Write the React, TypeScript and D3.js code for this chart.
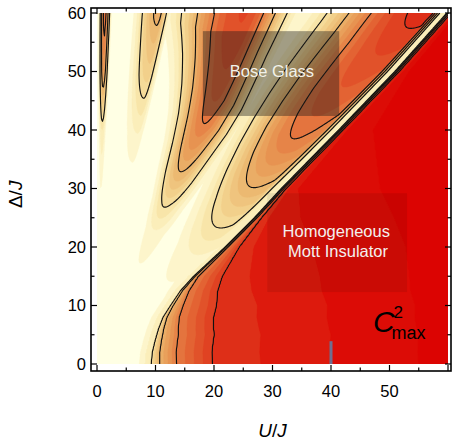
import { useEffect, useRef } from "react";
import * as d3 from "d3";

const WIDTH = 454;
const HEIGHT = 441;

const xTicks = [0, 10, 20, 30, 40, 50];
const yTicks = [0, 10, 20, 30, 40, 50, 60];
const minorTicks = [5, 15, 25, 35, 45, 55];

// edge of the Mott lobe (U/J reached at each Δ/J)
const boundaryDelta = [0, 2, 4, 6, 8, 10, 12.5, 15, 20, 25, 30, 40, 50, 60];
const boundaryU = [9.0, 9.2, 9.7, 10.3, 11.1, 12.4, 14.1, 16.4, 21.8, 26.8, 31.4, 41.2, 50.8, 59.7];

// Mott side: how far right of the edge (in U/J) each level of C² is reached
const mottDelta = [0, 5, 10, 15, 20, 25, 30, 40, 50, 60];
const mottLevels = [0.1, 0.2, 0.4, 0.6, 0.8, 0.85, 0.9, 0.95, 0.97];
const mott010 = [0, 0, 0, 0, 0, 0, 0, 0, 0, 0];
const mott020 = [0.25, 0.2, 0.15, 0.12, 0.1, 0.1, 0.1, 0.1, 0.1, 0.1];
const mott040 = [1.7, 1.2, 0.6, 0.35, 0.3, 0.3, 0.3, 0.3, 0.3, 0.3];
const mott060 = [4.6, 3.9, 2.3, 0.9, 0.6, 0.55, 0.55, 0.55, 0.55, 0.55];
const mott080 = [10.7, 10, 8, 5, 2.5, 1.3, 0.9, 0.85, 0.85, 0.85];
const mott085 = [19, 18, 15, 9.7, 5, 2.6, 1.4, 1.1, 1.1, 1.1];
const mott090 = [31, 30, 27, 21.7, 15, 8, 3, 1.6, 1.5, 1.5];
const mott095 = [46, 45, 42, 37, 31, 24, 17, 6, 2.5, 2];
const mott097 = [70, 70, 68, 65, 60, 55, 50, 35, 15, 6];

// thin pale strip just outside the Mott edge
const dipOffset = [-2.3, -0.9];
const dipWeight = [0, 1];
const dipValue = 0.1;
const baseValue = 0.02;

// Bose-glass fingers: angle from the Δ axis (deg), peak C² and widths vs radius
const profileRadius = [0, 15, 25, 30, 35, 40, 45, 50, 55, 60, 70, 85];
const peakA = [0, 0, 0.02, 0.05, 0.09, 0.15, 0.32, 0.5, 0.59, 0.65, 0.7, 0.72];
const peakB = [0, 0, 0, 0.02, 0.05, 0.1, 0.18, 0.27, 0.34, 0.42, 0.5, 0.55];
const peakC = [0, 0.02, 0.1, 0.22, 0.38, 0.5, 0.6, 0.66, 0.7, 0.74, 0.77, 0.8];
const peakD = [0, 0.02, 0.1, 0.18, 0.28, 0.4, 0.5, 0.59, 0.64, 0.68, 0.74, 0.85];
const angleA = [1.25, 1.25, 1.25, 1.25, 1.25, 1.25, 1.25, 1.25, 1.25, 1.25, 1.25, 1.25];
const angleB = [10, 10, 10, 10, 10, 10, 10, 10, 10, 10, 10, 10];
const angleC = [23, 23, 23, 23, 23.3, 23.6, 24, 24, 23.5, 23, 22.5, 22];
const angleD = [40.5, 40.5, 40.5, 40.5, 40.5, 40.5, 40.5, 40.7, 40.9, 41.2, 42, 43];
const leftA = [0.75, 0.75, 0.75, 0.75, 0.75, 0.75, 0.75, 0.75, 0.75, 0.75, 0.75, 0.75];
const rightA = [0.85, 0.85, 0.85, 0.85, 0.85, 0.85, 0.85, 0.85, 0.85, 0.85, 0.85, 0.85];
const leftB = [3.3, 3.3, 3.3, 3.3, 3.3, 3.3, 3.3, 3.3, 3.3, 3.3, 3.3, 3.3];
const rightB = [1.5, 1.5, 1.5, 1.5, 1.5, 1.5, 1.5, 1.5, 1.5, 1.5, 1.5, 1.5];
const leftC = [4.4, 4.4, 4.4, 4.4, 5, 5.5, 6.4, 7.4, 8.2, 9.2, 9.9, 10.4];
const rightC = [5.8, 5.8, 5.8, 5.8, 5.8, 5.8, 5.8, 5.8, 5.8, 5.8, 5.8, 5.8];
const leftD = [8.8, 8.8, 8.8, 8.8, 8.8, 8.8, 8.8, 8.8, 8.8, 8.8, 8.8, 8.8];
const rightD = [8.8, 8.8, 8.8, 8.8, 8.8, 8.8, 8.8, 8.8, 8.8, 8.8, 8.8, 8.8];

const fillLevels = [0.05, 0.1, 0.15, 0.2, 0.25, 0.3, 0.35, 0.4, 0.45, 0.5, 0.55, 0.6, 0.65, 0.7, 0.75, 0.8, 0.85, 0.9, 0.95];
const lineLevels = [0.2, 0.4, 0.6, 0.8];
const colorStops = [0, 0.1, 0.2, 0.3, 0.4, 0.5, 0.6, 0.7, 0.8, 0.85, 0.9, 1];
const colorHex = ["#ffffe4", "#fcf2c2", "#f6e0a0", "#f0ca84", "#ebb36b", "#e89a56", "#e57d43", "#e25a2e", "#df3a1e", "#dd2412", "#dc1008", "#dc0000"];

export default function App() {
  const svgRef = useRef<SVGSVGElement>(null);

  useEffect(() => {
    document.body.style.margin = "0";
    const svg = d3.select(svgRef.current);
    svg.selectAll("*").remove();

    const x = d3.scaleLinear([0, 60], [97, 448]);
    const y = d3.scaleLinear([0, 60], [364, 13]);
    const color = d3.scaleLinear<string>(colorStops, colorHex).clamp(true);
    const font = "'Liberation Sans', Arial, sans-serif";

    // ---- field ----
    const boundary = d3.scaleLinear(boundaryDelta, boundaryU).clamp(true);
    const mottTable = [mott010, mott020, mott040, mott060, mott080, mott085, mott090, mott095, mott097];
    const mottPos = mottTable.map(a => d3.scaleLinear(mottDelta, a).clamp(true));
    const dip = d3.scaleLinear(dipOffset, dipWeight).clamp(true);
    const lobes = [
      [peakA, angleA, leftA, rightA],
      [peakB, angleB, leftB, rightB],
      [peakC, angleC, leftC, rightC],
      [peakD, angleD, leftD, rightD],
    ].map(arrs => arrs.map(a => d3.scaleLinear(profileRadius, a).clamp(true)));

    const bose = (u, delta) => {
      const r = Math.hypot(u, delta);
      const phi = Math.atan2(Math.max(u, 0), Math.max(delta, 0)) * 180 / Math.PI;
      let v = baseValue;
      for (const [peak, ang, wl, wr] of lobes) {
        const c = ang(r);
        const w = phi < c ? wl(r) : wr(r);
        const d = (phi - c) / w;
        const k = Math.exp(-d * d - 0.3 * d * d * d * d);
        v = Math.max(v, peak(r) * k);
      }
      return v;
    };

    const pad = 3;
    const cell = x.invert(98) - x.invert(97);
    const nx = 351 + 2 * pad, ny = 351 + 2 * pad;
    const u0 = -pad * cell, dTop = 60 + pad * cell;
    const values = new Float64Array(nx * ny);
    for (let j = 0; j < ny; j++) {
      const delta = dTop - (j + 0.5) * cell;
      const bu = boundary(delta);
      const mott = d3.scaleLinear(mottPos.map(s => s(delta)), mottLevels).clamp(true);
      for (let i = 0; i < nx; i++) {
        const u = u0 + (i + 0.5) * cell;
        const h = u - bu;
        let v;
        if (h >= 0) v = mott(h);
        else {
          const w = dip(h);
          v = bose(u, delta) * (1 - w) + dipValue * w;
        }
        values[j * nx + i] = v;
      }
    }

    const proj = d3.geoTransform({
      point(px, py) { this.stream.point(x(u0 + px * cell), y(dTop - py * cell)); }
    });
    const path = d3.geoPath(proj);

    svg.append("defs").append("clipPath").attr("id", "plot-clip")
      .append("rect")
      .attr("x", x(0)).attr("y", y(60))
      .attr("width", x(60) - x(0)).attr("height", y(0) - y(60));

    const plot = svg.append("g").attr("clip-path", "url(#plot-clip)");
    plot.append("rect")
      .attr("x", x(0)).attr("y", y(60))
      .attr("width", x(60) - x(0)).attr("height", y(0) - y(60))
      .attr("fill", color(0));

    const bands = d3.contours().size([nx, ny]).thresholds(fillLevels)(values as any);
    plot.selectAll("path.band").data(bands).enter().append("path")
      .attr("class", "band")
      .attr("d", path)
      .attr("fill", d => color(d.value + 0.025))
      .attr("stroke", d => color(d.value + 0.025))
      .attr("stroke-width", 0.4);

    const lines = d3.contours().size([nx, ny]).thresholds(lineLevels)(values as any);
    plot.selectAll("path.line").data(lines).enter().append("path")
      .attr("class", "line")
      .attr("d", path)
      .attr("fill", "none")
      .attr("stroke", "#111")
      .attr("stroke-width", 1.15)
      .attr("stroke-linejoin", "round");

    // ---- annotation boxes ----
    plot.append("rect")
      .attr("x", x(29.1)).attr("y", y(29.2))
      .attr("width", x(53) - x(29.1)).attr("height", y(12.3) - y(29.2))
      .attr("fill", "#000").attr("opacity", 0.08);

    plot.append("rect")
      .attr("x", x(18.1)).attr("y", y(56.9))
      .attr("width", x(41.4) - x(18.1)).attr("height", y(42.4) - y(56.9))
      .attr("fill", "#1a1a1a").attr("opacity", 0.4);

    svg.append("text")
      .attr("x", x(29.9)).attr("y", y(49.1))
      .attr("text-anchor", "middle").attr("font-family", font)
      .attr("font-size", 16.5).attr("fill", "#f2f2ea")
      .text("Bose Glass");

    svg.append("text")
      .attr("x", x(40.9)).attr("y", y(21.7))
      .attr("text-anchor", "middle").attr("font-family", font)
      .attr("font-size", 16.5).attr("fill", "#f4f0ee")
      .text("Homogeneous");
    svg.append("text")
      .attr("x", x(41.2)).attr("y", y(18.3))
      .attr("text-anchor", "middle").attr("font-family", font)
      .attr("font-size", 16.5).attr("fill", "#f4f0ee")
      .text("Mott Insulator");

    // C²max label: C, superscript 2 and subscript max stacked
    const cx = x(47.2), cy = y(5.5);
    svg.append("text").attr("x", cx).attr("y", cy)
      .attr("font-family", font).attr("font-style", "italic")
      .attr("font-size", 30).attr("fill", "#000").text("C");
    svg.append("text").attr("x", cx + 20.5).attr("y", cy - 14)
      .attr("font-family", font).attr("font-size", 17).attr("fill", "#000").text("2");
    svg.append("text").attr("x", cx + 18.5).attr("y", cy + 7)
      .attr("font-family", font).attr("font-size", 18).attr("fill", "#000").text("max");

    // marker at U/J = 40
    svg.append("line")
      .attr("x1", x(40)).attr("x2", x(40))
      .attr("y1", y(0)).attr("y2", y(3.9))
      .attr("stroke", "#6e6e90").attr("stroke-width", 3);

    // ---- frame & ticks ----
    const fl = x(0) - 6, fr = x(60) + 3, ft = y(60) - 5, fb = y(0) + 7;
    svg.append("rect")
      .attr("x", fl).attr("y", ft).attr("width", fr - fl).attr("height", fb - ft)
      .attr("fill", "none").attr("stroke", "#000").attr("stroke-width", 1.6);

    const ticks = svg.append("g").attr("stroke", "#000").attr("stroke-width", 1.2);
    const xAll = [...xTicks, 60].map(v => ({ v, len: 6 })).concat(minorTicks.map(v => ({ v, len: 3.5 })));
    const yAll = yTicks.map(v => ({ v, len: 6 })).concat(minorTicks.map(v => ({ v, len: 3.5 })));
    xAll.forEach(t => {
      ticks.append("line").attr("x1", x(t.v)).attr("x2", x(t.v)).attr("y1", fb).attr("y2", fb - t.len);
      ticks.append("line").attr("x1", x(t.v)).attr("x2", x(t.v)).attr("y1", ft).attr("y2", ft + t.len);
    });
    yAll.forEach(t => {
      ticks.append("line").attr("y1", y(t.v)).attr("y2", y(t.v)).attr("x1", fl).attr("x2", fl + t.len);
      ticks.append("line").attr("y1", y(t.v)).attr("y2", y(t.v)).attr("x1", fr).attr("x2", fr - t.len);
    });

    svg.append("g").selectAll("text").data(xTicks).enter().append("text")
      .attr("x", d => x(d)).attr("y", fb + 26)
      .attr("text-anchor", "middle").attr("font-family", font).attr("font-size", 16.5)
      .text(d => d);
    svg.append("g").selectAll("text").data(yTicks).enter().append("text")
      .attr("x", fl - 5).attr("y", d => y(d)).attr("dy", "0.36em")
      .attr("text-anchor", "end").attr("font-family", font).attr("font-size", 16.5)
      .text(d => d);

    const xl = svg.append("text")
      .attr("x", x(30)).attr("y", 437)
      .attr("text-anchor", "middle").attr("font-family", font).attr("font-size", 19);
    xl.append("tspan").attr("font-style", "italic").text("U");
    xl.append("tspan").text("/");
    xl.append("tspan").attr("font-style", "italic").text("J");

    const yl = svg.append("text")
      .attr("transform", `translate(22,${y(29)}) rotate(-90)`)
      .attr("text-anchor", "middle").attr("font-family", font).attr("font-size", 19);
    yl.append("tspan").text("Δ/");
    yl.append("tspan").attr("font-style", "italic").text("J");
  }, []);

  return <svg ref={svgRef} width={WIDTH} height={HEIGHT} style={{ display: "block", background: "#fff" }} />;
}
